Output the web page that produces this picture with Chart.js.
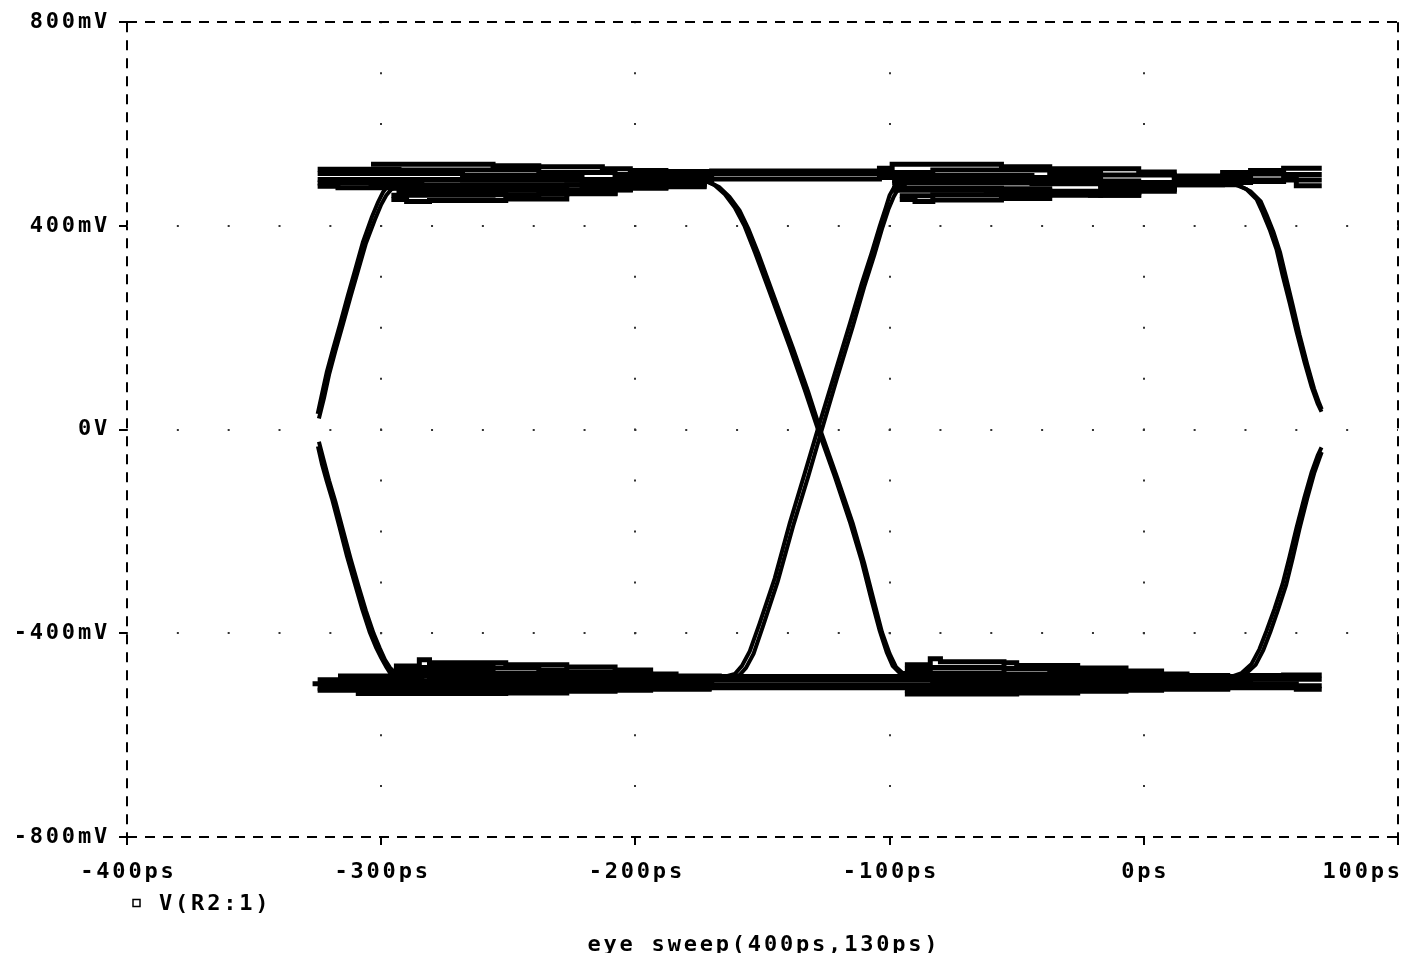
<!DOCTYPE html>
<html>
<head>
<meta charset="utf-8">
<title>V(R2:1) eye sweep</title>
<script src="https://cdn.jsdelivr.net/npm/chart.js@4.4.1/dist/chart.umd.min.js"></script>
<style>
  html, body { margin: 0; padding: 0; background: #fff; }
  #eye { display: block; }
</style>
</head>
<body>
<canvas id="eye" width="1403" height="953"></canvas>
<script>
// axis ticks
const timeTicks = [-400, -300, -200, -100, 0, 100];   // ps
const voltTicks = [-800, -400, 0, 400, 800];          // mV

// ---- transitions, [ps, mV] ----
const riseLeftA = [[-325,31],[-323.3,70],[-321.4,113],[-319,157],[-316.2,207],[-313.1,264],[-310.3,313],[-307.2,368],[-303.7,417],[-301.3,446],[-299.3,466],[-297.4,479],[-295.8,483]];
const riseLeftB = [[-324.5,22],[-322.5,62],[-320.5,108],[-318,155],[-315,208],[-312,262],[-309,314],[-306,366],[-302.5,412],[-300,442],[-298,460],[-296,472],[-293.5,479]];
const fallLeftA = [[-324.9,-33],[-323.3,-68],[-321.4,-102],[-319.4,-135],[-316.5,-190],[-313.5,-248],[-310.5,-300],[-307.5,-352],[-304.5,-398],[-302,-428],[-300,-448],[-298,-466],[-296.5,-478],[-294.5,-484]];
const fallLeftB = [[-324.5,-24],[-322.5,-62],[-320.5,-100],[-318,-142],[-315,-198],[-312,-254],[-309,-306],[-306,-356],[-303,-400],[-300.5,-430],[-298.5,-452],[-296.5,-468],[-294.5,-478],[-292,-482]];
const fallMidA = [[-172.7,489],[-168.8,480],[-164.8,462],[-160.9,436],[-157,399],[-153,348],[-147.2,270],[-139.3,162],[-133.4,78],[-128.3,2],[-121.6,-92],[-115.7,-180],[-111,-258],[-107,-337],[-103.9,-395],[-101.1,-438],[-98.8,-464],[-96,-478],[-92.1,-485]];
const fallMidB = [[-171,486],[-167,476],[-163,457],[-159,430],[-155.5,394],[-151.5,344],[-145.8,266],[-138,160],[-132,74],[-127,-4],[-120.5,-96],[-114.5,-184],[-110,-262],[-106,-340],[-103,-398],[-100,-440],[-97.5,-466],[-94.5,-480],[-90,-487]];
const riseMidA = [[-164.8,-485],[-160.9,-480],[-158.1,-464],[-155,-435],[-151.1,-380],[-145.2,-292],[-139.3,-184],[-133.4,-86],[-128.3,0],[-121.6,110],[-115.7,207],[-111,286],[-107,348],[-103.9,399],[-101.5,436],[-100,460],[-98,478],[-95.2,485]];
const riseMidB = [[-163,-487],[-159,-482],[-156.5,-468],[-153.5,-440],[-149.8,-386],[-144,-298],[-138,-190],[-132,-92],[-127,-6],[-120.5,104],[-114.5,202],[-110,280],[-106,343],[-103,394],[-100.5,432],[-98.5,456],[-96.5,474],[-93.5,482]];
const fallRightA = [[36.5,480],[40.4,472],[44.4,452],[46.7,427],[49.5,393],[52.2,354],[54.6,303],[57.3,250],[60.1,192],[63.2,133],[66,84],[68.4,51],[69.9,35]];
const fallRightB = [[38,478],[42,468],[46,448],[48.3,422],[51,388],[53.6,348],[56,298],[58.6,244],[61.3,186],[64.3,128],[67,80],[69,52],[70,40]];
const riseRightA = [[34.5,-485],[38.5,-478],[42.4,-460],[45.5,-431],[48.3,-395],[51.4,-352],[54.6,-303],[57.3,-250],[60.1,-192],[63.2,-133],[66,-84],[68.4,-51],[69.9,-35]];
const riseRightB = [[36,-488],[40,-480],[44,-462],[47,-433],[49.8,-397],[52.8,-354],[56,-305],[58.6,-252],[61.3,-194],[64.3,-135],[67,-86],[69.2,-55],[70,-44]];

// ---- settled high levels (held until next sample) ----
const high1 = [[-304,521],[-256,518],[-238,516],[-213,512],[-202,509],[-188,507],[-170,508],[-104,513],[-99,521],[-56,516],[-37,512],[-2,506],[12,498],[31,505],[42,509],[55,513],[70,513]];
const high2 = [[-325,511],[-293,510],[-238,505],[-208,501],[-188,499],[-170,503],[-104,505],[-83,510],[-37,505],[-17,500],[12,491],[31,498],[42,502],[55,501],[70,501]];
const high3 = [[-325,503],[-284,503],[-268,499],[-221,491],[-188,490],[-170,492],[-104,495],[-83,499],[-44,495],[-17,488],[-2,485],[12,486],[31,489],[42,490],[70,490]];
const highLeft4 = [[-325,491],[-293,491],[-268,490],[-221,488],[-188,486],[-172,486]];
const highLeft5 = [[-325,484],[-304,482],[-284,481],[-221,478],[-194,479],[-188,481],[-172,481]];
const highLeft6 = [[-325,478],[-317,475],[-293,469],[-251,470],[-227,471],[-202,476],[-188,478],[-172,478]];
const risenLeft7 = [[-296,474],[-284,475],[-251,477],[-227,481],[-208,483],[-188,485],[-172,485]];
const risenLeft8 = [[-296,460],[-256,461],[-238,462],[-227,464],[-208,471],[-202,474],[-188,477],[-172,477]];
const risenLeft9 = [[-296,452],[-290,448],[-281,450],[-251,453],[-227,463],[-208,471],[-202,478],[-194,483],[-172,483]];
const risenRight4 = [[-99,489],[-44,487],[-17,482],[-2,479],[12,483],[31,485],[42,487],[55,491],[60,479],[70,479]];
const risenRight5 = [[-99,484],[-44,483],[-17,474],[-2,473],[12,481],[31,482],[37,482]];
const risenRight6 = [[-99,474],[-56,473],[-37,468],[-17,466],[-2,472],[12,483],[37,483]];
const risenRight7 = [[-99,470],[-62,469],[-37,464],[-17,460],[-2,468],[12,481],[37,481]];
const risenRight8 = [[-96,459],[-83,461],[-56,460],[-37,463],[-21,460],[-2,473],[12,485],[37,485]];
const risenRight9 = [[-96,452],[-90,448],[-83,451],[-56,454],[-37,460],[-17,466],[-2,473],[12,485],[37,485]];

// ---- settled low levels ----
const low1 = [[-317,-484],[-281,-486],[-238,-488],[-221,-489],[-208,-487],[-170,-485],[-80,-487],[-37,-489],[-20,-490],[-7,-488],[7,-487],[31,-485],[42,-483],[55,-482],[70,-482]];
const low2 = [[-325,-491],[-284,-493],[-238,-494],[-194,-493],[-170,-492],[-83,-494],[-37,-495],[-7,-494],[7,-493],[31,-492],[42,-490],[70,-490]];
const low3 = [[-327,-499],[-284,-500],[-256,-501],[-221,-500],[-194,-499],[-170,-502],[-83,-501],[-55,-502],[-20,-501],[7,-499],[31,-499],[60,-503],[70,-503]];
const low4 = [[-325,-508],[-238,-506],[-208,-505],[-194,-506],[-170,-507],[-83,-509],[-37,-507],[-7,-506],[31,-507],[60,-510],[70,-510]];
const lowLeft5 = [[-325,-512],[-251,-512],[-227,-510],[-208,-509],[-194,-508],[-170,-508]];
const lowLeft6 = [[-310,-518],[-251,-517],[-227,-514],[-208,-512],[-194,-510],[-170,-510]];
const fallenLeft1 = [[-295,-464],[-285,-452],[-281,-458],[-256,-458],[-251,-462],[-227,-466],[-208,-472],[-194,-480],[-184,-484],[-166,-484]];
const fallenLeft2 = [[-295,-471],[-284,-467],[-256,-468],[-238,-472],[-227,-476],[-208,-480],[-194,-485],[-184,-489],[-166,-489]];
const fallenLeft3 = [[-297,-478],[-284,-477],[-256,-479],[-238,-481],[-221,-484],[-208,-486],[-194,-489],[-184,-491],[-170,-491]];
const fallenRight1 = [[-94,-462],[-84,-450],[-80,-456],[-55,-458],[-50,-463],[-26,-468],[-7,-474],[7,-480],[17,-483],[34,-483]];
const fallenRight2 = [[-94,-470],[-84,-467],[-55,-469],[-37,-473],[-26,-477],[-7,-482],[7,-486],[17,-488],[34,-488]];
const fallenRight3 = [[-96,-479],[-84,-478],[-55,-480],[-37,-483],[-20,-486],[-7,-489],[7,-491],[34,-491]];
const lowRight5 = [[-94,-512],[-50,-512],[-26,-510],[-7,-509],[7,-508],[34,-508]];
const lowRight6 = [[-94,-519],[-50,-517],[-26,-514],[-7,-512],[7,-510],[34,-510]];

const edges = [riseLeftA, riseLeftB, fallLeftA, fallLeftB, fallMidA, fallMidB, riseMidA, riseMidB,
               fallRightA, fallRightB, riseRightA, riseRightB];
const levels = [high1, high2, high3, highLeft4, highLeft5, highLeft6, risenLeft7, risenLeft8, risenLeft9,
                risenRight4, risenRight5, risenRight6, risenRight7, risenRight8, risenRight9,
                low1, low2, low3, low4, lowLeft5, lowLeft6, fallenLeft1, fallenLeft2, fallenLeft3,
                fallenRight1, fallenRight2, fallenRight3, lowRight5, lowRight6];

const FONT_FAMILY = 'DejaVu Sans Mono';
const FONT_SIZE = 22;
const FONT = 'bold ' + FONT_SIZE + 'px "' + FONT_FAMILY + '"';
const SPACING = 2.8;

function trace(points, stepped, width) {
    return {
        label: 'V(R2:1)',
        data: points.map(([x, y]) => ({ x, y })),
        stepped: stepped,
        borderColor: '#000',
        backgroundColor: '#000',
        borderWidth: width,
        pointRadius: 0,
        fill: false
    };
}

const datasets = [
    ...levels.map(p => trace(p, true, 5)),
    ...edges.map(p => trace(p, false, 4))
];

// frame is dashed, inner grid is dotted
const isFrameX = v => v === -400 || v === 100;
const isFrameY = v => v === -800 || v === 800;

function dotDash(ctx, axis, step) {
    const s = ctx.chart.scales[axis];
    const period = Math.abs(s.getPixelForValue(step) - s.getPixelForValue(0));
    return [2, period - 2];
}

// letter spacing for the pixel-font look, plus x labels, legend and sweep caption
const textPlugin = {
    id: 'eyeText',
    beforeDraw(chart) {
        chart.ctx.letterSpacing = SPACING + 'px';
    },
    afterDraw(chart) {
        const ctx = chart.ctx;
        const xs = chart.scales.x;
        const area = chart.chartArea;
        ctx.save();
        ctx.letterSpacing = SPACING + 'px';
        ctx.font = FONT;
        ctx.fillStyle = '#000';
        ctx.textBaseline = 'alphabetic';
        ctx.textAlign = 'left';

        xs.ticks.forEach(t => {
            const label = t.value + 'ps';
            const w = ctx.measureText(label).width - SPACING;
            let left = xs.getPixelForValue(t.value) - w / 2;
            left = Math.min(left, chart.width - w - 3);
            ctx.fillText(label, left, xs.top + 41);
        });

        // legend entry
        ctx.lineWidth = 1.5;
        ctx.strokeStyle = '#000';
        ctx.strokeRect(133, 899.5, 7, 7);
        ctx.fillText(chart.data.datasets[0].label, 159, xs.top + 73);

        // sweep caption
        const caption = 'eye sweep(400ps,130ps)';
        const cw = ctx.measureText(caption).width - SPACING;
        ctx.fillText(caption, (area.left + area.right) / 2 - cw / 2, 951);
        ctx.restore();
    }
};

new Chart(document.getElementById('eye'), {
    type: 'line',
    data: { datasets },
    plugins: [textPlugin],
    options: {
        responsive: false,
        animation: false,
        devicePixelRatio: 1,
        events: [],
        layout: { padding: { top: 20, right: 5, left: 0, bottom: 0 } },
        plugins: {
            legend: { display: false },
            tooltip: { enabled: false }
        },
        elements: {
            point: { radius: 0 },
            line: { borderCapStyle: 'butt', borderJoinStyle: 'miter', tension: 0 }
        },
        scales: {
            x: {
                type: 'linear',
                min: -400,
                max: 100,
                afterBuildTicks: s => { s.ticks = timeTicks.map(v => ({ value: v })); },
                afterFit: s => { s.height = 116; },
                ticks: { display: false },
                grid: {
                    color: c => (c.tick && isFrameX(c.tick.value)) ? '#000' : '#333',
                    lineWidth: 2,
                    tickLength: 8,
                    tickColor: '#000',
                    tickWidth: 2
                },
                border: {
                    display: false,
                    dash: c => !c.tick ? [] : (isFrameX(c.tick.value) ? [10, 8] : dotDash(c, 'y', 100)),
                    dashOffset: c => (c.tick && !isFrameX(c.tick.value)) ? 1 : 0
                }
            },
            y: {
                type: 'linear',
                min: -800,
                max: 800,
                afterBuildTicks: s => { s.ticks = voltTicks.map(v => ({ value: v })); },
                afterFit: s => { s.width = 127; },
                ticks: {
                    autoSkip: false,
                    padding: 9,
                    color: '#000',
                    font: { family: FONT_FAMILY, size: FONT_SIZE, weight: 'bold' },
                    callback: v => v === 0 ? '0V' : v + 'mV'
                },
                grid: {
                    color: c => (c.tick && isFrameY(c.tick.value)) ? '#000' : '#333',
                    lineWidth: 2,
                    tickLength: 8,
                    tickColor: '#000',
                    tickWidth: 2
                },
                border: {
                    display: false,
                    dash: c => !c.tick ? [] : (isFrameY(c.tick.value) ? [10, 8] : dotDash(c, 'x', 20)),
                    dashOffset: c => (c.tick && !isFrameY(c.tick.value)) ? 1 : 0
                }
            }
        }
    }
});
</script>
</body>
</html>
